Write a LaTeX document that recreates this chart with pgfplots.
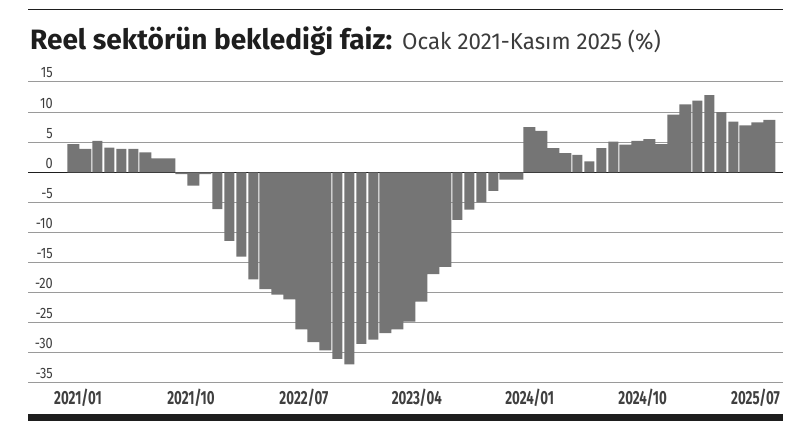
\documentclass[border=0pt]{standalone}
\usepackage{fontspec}
\setmainfont{Fira Sans}[FakeStretch=0.85]
\newfontfamily\condfont{Fira Sans}[FakeStretch=0.70]
\newfontfamily\titlefont{Fira Sans}[FakeStretch=1.0]
\newfontfamily\subfont{Fira Sans}[FakeStretch=0.97]
\usepackage{pgfplots}
\usepackage{pgfplotstable}
\pgfplotsset{compat=1.18}

\definecolor{barcol}{HTML}{757575}
\definecolor{gridcol}{HTML}{9A9A9A}
\definecolor{txtcol}{HTML}{1E1E1E}
\definecolor{subcol}{HTML}{3C3C3C}

% month index (1 = 2021/01) and value in %
\pgfplotstableread{
n v
1 4.7
2 3.9
7 3.3
8 2.3
9 2.3
10 -0.3
11 -2.2
12 -0.3
17 -19.4
18 -20.3
19 -21.1
20 -26.1
21 -28.2
22 -29.6
27 -26.7
28 -26.1
29 -24.8
30 -21.5
31 -16.9
32 -15.7
37 -1.2
38 -1.2
39 7.5
40 6.9
41 4.0
42 3.2
47 4.6
48 5.2
49 5.5
50 4.7
51 9.6
52 11.3
57 7.8
58 8.3
59 8.7
}\widebars

% bars that show a thin white gap on both sides
\pgfplotstableread{
n v
3 5.2
4 4.1
5 3.9
6 3.9
13 -6.1
14 -11.4
15 -14.0
16 -17.8
23 -31.0
24 -31.9
25 -28.5
26 -27.8
33 -7.9
34 -6.2
35 -5.0
36 -3.1
43 2.9
44 1.8
45 4.0
46 5.1
53 11.9
54 12.8
55 10.0
56 8.4
}\narrowbars

\begin{document}
\begin{tikzpicture}
\path[use as bounding box] (0,0) rectangle (800pt,435pt);

\draw[line width=1.2pt, txtcol] (28pt,425.7pt) -- (783pt,425.7pt);
\fill[txtcol] (28pt,14pt) rectangle (783pt,21pt);

\node[anchor=base west, inner sep=0pt, text=txtcol] at (30pt,385pt)
  {\titlefont\bfseries\fontsize{28pt}{32pt}\selectfont Reel sektörün beklediği faiz:};
\node[anchor=base west, inner sep=0pt, text=subcol] at (402pt,385pt)
  {\subfont\fontsize{23pt}{27pt}\selectfont Ocak 2021-Kasım 2025 (\%)};

\begin{axis}[
  at={(28pt,52pt)}, anchor=south west,
  width=755pt, height=301pt, scale only axis,
  xmin=-2.78, xmax=60.14, ymin=-35, ymax=15,
  axis line style={draw=none},
  tick style={draw=none},
  major tick length=0pt,
  clip=false,
  ytick={-35,-30,...,15},
  yticklabels={-35,-30,-25,-20,-15,-10,-5,0,5,10,15},
  ymajorgrids,
  grid style={draw=gridcol, line width=1pt},
  extra y ticks={0},
  extra y tick labels={},
  extra y tick style={grid style={draw=txtcol, line width=1.3pt}},
  yticklabel style={anchor=base east, inner sep=0pt, xshift=25pt, yshift=4pt,
    font=\fontsize{15pt}{17pt}\selectfont, text=subcol},
  xtick={1.39,10.80,20.21,29.62,39.03,48.44,57.85},
  xticklabels={2021/01,2021/10,2022/07,2023/04,2024/01,2024/10,2025/07},
  xticklabel style={anchor=base, inner sep=0pt, yshift=-22pt,
    font=\condfont\bfseries\fontsize{19pt}{21pt}\selectfont, text=txtcol!85},
]
\addplot[ybar, bar width=1, bar shift=0pt, fill=barcol, draw=none]
  table[x=n, y=v] {\widebars};
\addplot[ybar, bar width=0.83, bar shift=0pt, fill=barcol, draw=none]
  table[x=n, y=v] {\narrowbars};
\end{axis}
\end{tikzpicture}
\end{document}
